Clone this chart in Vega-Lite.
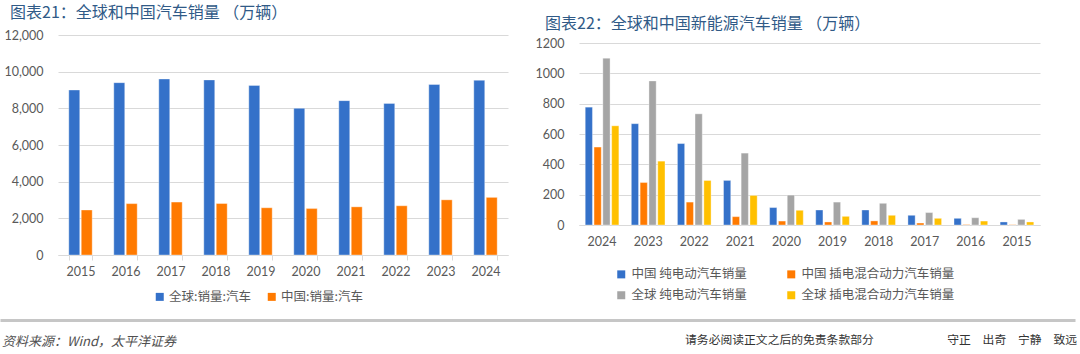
{
  "$schema": "https://vega.github.io/schema/vega-lite/v6.json",
  "padding": {"left": 0, "top": 5, "right": 0, "bottom": 0},
  "background": "white",
  "config": {
    "view": {"stroke": null},
    "font": "Noto Sans CJK SC",
    "axis": {"labelColor": "#595959", "labelFont": "Lato", "labelFontSize": 12.5, "gridColor": "#d9d9d9", "domainColor": "#d9d9d9", "tickColor": "#d9d9d9", "title": null},
    "legend": {"labelFont": "Noto Sans CJK SC", "labelColor": "#595959", "labelFontSize": 12.5, "symbolType": "square", "symbolSize": 64, "symbolStrokeWidth": 0, "title": null}
  },
  "datasets": {
    "cars": [
      {"year": "2015", "series": "全球:销量:汽车", "value": 9000}, {"year": "2015", "series": "中国:销量:汽车", "value": 2455},
      {"year": "2016", "series": "全球:销量:汽车", "value": 9400}, {"year": "2016", "series": "中国:销量:汽车", "value": 2803},
      {"year": "2017", "series": "全球:销量:汽车", "value": 9600}, {"year": "2017", "series": "中国:销量:汽车", "value": 2888},
      {"year": "2018", "series": "全球:销量:汽车", "value": 9550}, {"year": "2018", "series": "中国:销量:汽车", "value": 2808},
      {"year": "2019", "series": "全球:销量:汽车", "value": 9250}, {"year": "2019", "series": "中国:销量:汽车", "value": 2577},
      {"year": "2020", "series": "全球:销量:汽车", "value": 8000}, {"year": "2020", "series": "中国:销量:汽车", "value": 2531},
      {"year": "2021", "series": "全球:销量:汽车", "value": 8420}, {"year": "2021", "series": "中国:销量:汽车", "value": 2627},
      {"year": "2022", "series": "全球:销量:汽车", "value": 8270}, {"year": "2022", "series": "中国:销量:汽车", "value": 2686},
      {"year": "2023", "series": "全球:销量:汽车", "value": 9300}, {"year": "2023", "series": "中国:销量:汽车", "value": 3009},
      {"year": "2024", "series": "全球:销量:汽车", "value": 9530}, {"year": "2024", "series": "中国:销量:汽车", "value": 3143}
    ],
    "nev": [
      {"year": "2024", "series": "中国 纯电动汽车销量", "value": 777}, {"year": "2024", "series": "中国 插电混合动力汽车销量", "value": 514}, {"year": "2024", "series": "全球 纯电动汽车销量", "value": 1100}, {"year": "2024", "series": "全球 插电混合动力汽车销量", "value": 654},
      {"year": "2023", "series": "中国 纯电动汽车销量", "value": 668}, {"year": "2023", "series": "中国 插电混合动力汽车销量", "value": 280}, {"year": "2023", "series": "全球 纯电动汽车销量", "value": 950}, {"year": "2023", "series": "全球 插电混合动力汽车销量", "value": 421},
      {"year": "2022", "series": "中国 纯电动汽车销量", "value": 537}, {"year": "2022", "series": "中国 插电混合动力汽车销量", "value": 151}, {"year": "2022", "series": "全球 纯电动汽车销量", "value": 733}, {"year": "2022", "series": "全球 插电混合动力汽车销量", "value": 294},
      {"year": "2021", "series": "中国 纯电动汽车销量", "value": 294}, {"year": "2021", "series": "中国 插电混合动力汽车销量", "value": 55}, {"year": "2021", "series": "全球 纯电动汽车销量", "value": 474}, {"year": "2021", "series": "全球 插电混合动力汽车销量", "value": 195},
      {"year": "2020", "series": "中国 纯电动汽车销量", "value": 115}, {"year": "2020", "series": "中国 插电混合动力汽车销量", "value": 26}, {"year": "2020", "series": "全球 纯电动汽车销量", "value": 197}, {"year": "2020", "series": "全球 插电混合动力汽车销量", "value": 97},
      {"year": "2019", "series": "中国 纯电动汽车销量", "value": 99}, {"year": "2019", "series": "中国 插电混合动力汽车销量", "value": 20}, {"year": "2019", "series": "全球 纯电动汽车销量", "value": 151}, {"year": "2019", "series": "全球 插电混合动力汽车销量", "value": 57},
      {"year": "2018", "series": "中国 纯电动汽车销量", "value": 99}, {"year": "2018", "series": "中国 插电混合动力汽车销量", "value": 27}, {"year": "2018", "series": "全球 纯电动汽车销量", "value": 143}, {"year": "2018", "series": "全球 插电混合动力汽车销量", "value": 64},
      {"year": "2017", "series": "中国 纯电动汽车销量", "value": 64}, {"year": "2017", "series": "中国 插电混合动力汽车销量", "value": 13}, {"year": "2017", "series": "全球 纯电动汽车销量", "value": 82}, {"year": "2017", "series": "全球 插电混合动力汽车销量", "value": 44},
      {"year": "2016", "series": "中国 纯电动汽车销量", "value": 44}, {"year": "2016", "series": "中国 插电混合动力汽车销量", "value": 3}, {"year": "2016", "series": "全球 纯电动汽车销量", "value": 48}, {"year": "2016", "series": "全球 插电混合动力汽车销量", "value": 26},
      {"year": "2015", "series": "中国 纯电动汽车销量", "value": 20}, {"year": "2015", "series": "中国 插电混合动力汽车销量", "value": 2}, {"year": "2015", "series": "全球 纯电动汽车销量", "value": 37}, {"year": "2015", "series": "全球 插电混合动力汽车销量", "value": 20}
    ],
    "footer": [
      {"side": "left", "t": "资料来源：Wind，太平洋证券"},
      {"side": "right", "t": "请务必阅读正文之后的免责条款部分　　　　　　 守正　出奇　宁静　致远"}
    ]
  },
  "spacing": 10,
  "resolve": {"scale": {"x": "independent", "y": "independent", "color": "independent", "xOffset": "independent"}, "legend": {"color": "independent"}},
  "vconcat": [
    {
      "resolve": {"scale": {"x": "independent", "y": "independent", "color": "independent", "xOffset": "independent"}, "legend": {"color": "independent"}, "axis": {"x": "independent", "y": "independent"}},
      "hconcat": [
        {
          "width": 450,
          "height": 220,
          "title": {"text": "图表21：全球和中国汽车销量 （万辆）", "anchor": "start", "fontSize": 16, "fontWeight": "normal", "color": "#305A87", "font": "Noto Sans CJK SC", "dx": 10, "offset": 8},
          "data": {"name": "cars"},
          "mark": {"type": "bar", "stroke": "#ffffff", "strokeWidth": 0.6, "strokeOpacity": 0.6},
          "encoding": {
            "x": {"field": "year", "type": "ordinal", "scale": {"paddingInner": 0.48, "paddingOuter": 0.24}, "axis": {"labelAngle": 0, "tickBand": "extent", "ticks": true, "tickSize": 5, "labelPadding": 5}},
            "xOffset": {"field": "series", "sort": ["全球:销量:汽车", "中国:销量:汽车"], "scale": {"paddingInner": 0.12}},
            "y": {"field": "value", "type": "quantitative", "scale": {"domain": [0, 12000]}, "axis": {"values": [0, 2000, 4000, 6000, 8000, 10000, 12000], "format": ",.0f", "ticks": false, "domain": false, "labelPadding": 15, "minExtent": 58}},
            "color": {"field": "series", "sort": ["全球:销量:汽车", "中国:销量:汽车"], "scale": {"domain": ["全球:销量:汽车", "中国:销量:汽车"], "range": ["#3471C9", "#FF7A00"]}, "legend": {"orient": "none", "legendX": 89, "legendY": 249, "padding": 6.5, "direction": "horizontal", "columnPadding": 14, "labelOffset": 3}}
          }
        },
        {
          "width": 461,
          "height": 182,
          "title": {"text": "图表22：全球和中国新能源汽车销量 （万辆）", "anchor": "start", "fontSize": 16, "fontWeight": "normal", "color": "#305A87", "font": "Noto Sans CJK SC", "dx": 10, "offset": 5.5},
          "data": {"name": "nev"},
          "mark": {"type": "bar", "stroke": "#ffffff", "strokeWidth": 0.6, "strokeOpacity": 0.6},
          "encoding": {
            "x": {"field": "year", "type": "ordinal", "sort": ["2024", "2023", "2022", "2021", "2020", "2019", "2018", "2017", "2016", "2015"], "scale": {"paddingInner": 0.27, "paddingOuter": 0.135}, "axis": {"labelAngle": 0, "ticks": false, "labelPadding": 10}},
            "xOffset": {"field": "series", "sort": ["中国 纯电动汽车销量", "中国 插电混合动力汽车销量", "全球 纯电动汽车销量", "全球 插电混合动力汽车销量"], "scale": {"paddingInner": 0.18}},
            "y": {"field": "value", "type": "quantitative", "scale": {"domain": [0, 1200]}, "axis": {"values": [0, 200, 400, 600, 800, 1000, 1200], "format": "d", "ticks": false, "domain": false, "labelPadding": 15}},
            "color": {"field": "series", "sort": ["中国 纯电动汽车销量", "中国 插电混合动力汽车销量", "全球 纯电动汽车销量", "全球 插电混合动力汽车销量"], "scale": {"domain": ["中国 纯电动汽车销量", "中国 插电混合动力汽车销量", "全球 纯电动汽车销量", "全球 插电混合动力汽车销量"], "range": ["#3471C9", "#FF7A00", "#A5A5A5", "#FFC000"]}, "legend": {"orient": "none", "legendX": 36, "legendY": 225, "direction": "horizontal", "columns": 2, "columnPadding": 38, "rowPadding": 8, "labelOffset": 4}}
          }
        }
      ],
      "spacing": 27,
      "center": true
    },
    {
      "width": 1017,
      "height": 30,
      "data": {"name": "footer"},
      "encoding": {
        "x": {"field": "side", "type": "nominal", "sort": ["left", "right"], "scale": {"type": "point", "padding": 0, "range": [-58, 1017]}, "axis": {"orient": "top", "labels": false, "ticks": false, "domain": true, "domainWidth": 3, "domainColor": "#c6c6c6", "grid": false}}
      },
      "layer": [
        {
          "transform": [{"filter": "datum.side === 'left'"}],
          "mark": {"type": "text", "align": "left", "dx": 2, "dy": 7, "fontSize": 13, "fontStyle": "italic", "color": "#505050", "font": "Noto Sans CJK SC"},
          "encoding": {"text": {"field": "t"}}
        },
        {
          "transform": [{"filter": "datum.side === 'right'"}],
          "mark": {"type": "text", "align": "right", "dx": 2, "dy": 5, "fontSize": 11.8, "color": "#333333", "font": "Noto Sans CJK SC"},
          "encoding": {"text": {"field": "t"}}
        }
      ]
    }
  ]
}
